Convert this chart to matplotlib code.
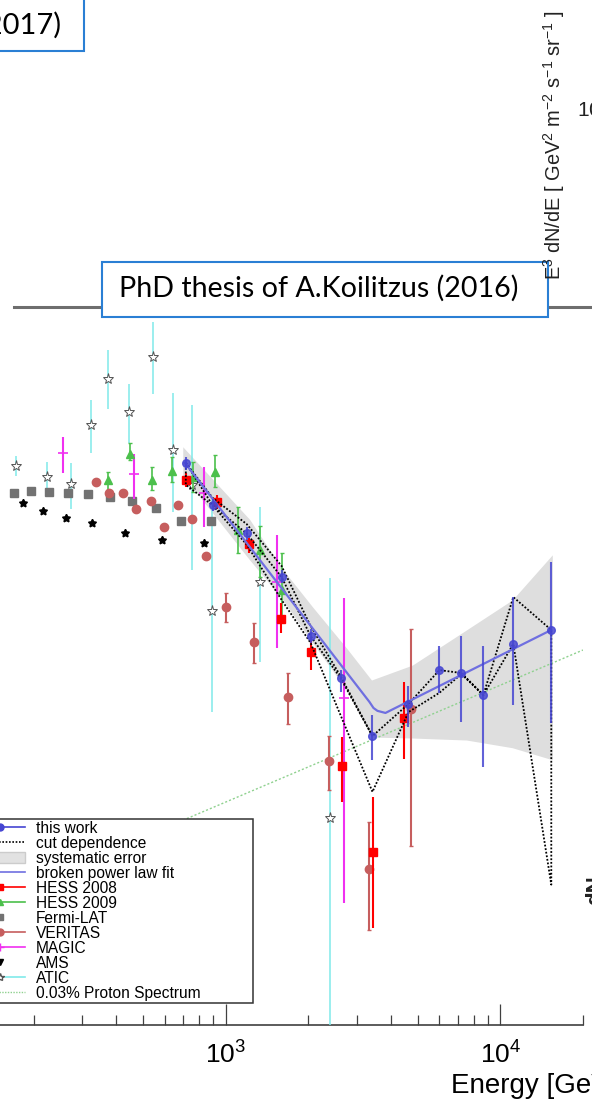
import matplotlib
matplotlib.use("Agg")
import matplotlib.pyplot as plt
from matplotlib.lines import Line2D
from matplotlib.patches import Patch, Rectangle
import numpy as np

plt.rcParams['font.family'] = ['Liberation Sans', 'DejaVu Sans']
plt.rcParams['mathtext.fontset'] = 'custom'
plt.rcParams['mathtext.rm'] = 'Liberation Sans'
plt.rcParams['mathtext.it'] = 'Liberation Sans:italic'
plt.rcParams['mathtext.bf'] = 'Liberation Sans:bold'
plt.rcParams['mathtext.default'] = 'regular'

# ---------------- data (E in GeV, E^3 dN/dE in GeV^2 m^-2 s^-1 sr^-1) ----------------
this_E = [716, 897, 1192, 1598, 2038, 2619, 3424, 4630, 6000, 7215, 8676, 11150, 15330]
this_F = [184, 140, 117, 88.5, 60.6, 46.3, 31.9, 39.2, 48.7, 47.8, 41.5, 57.6, 63.0]
this_hi = [191, 146, 122, 92.5, 63.4, 48.7, 36.5, 44.0, 56.9, 60.6, 56.7, 77.8, 97.4]
this_lo = [176, 135, 112, 85.1, 58.0, 42.3, 27.4, 33.8, 42.1, 34.9, 26.2, 38.9, 34.7]

fit_E = [710, 3339, 3453, 3570, 3818, 15330]
fit_F = [184, 39.7, 38.2, 37.5, 37.0, 63.0]

band_E = [698, 1223, 1598, 2073, 2754, 3396, 4786, 7524, 11060, 15460]
band_hi = [204, 128, 93.8, 73.0, 56.1, 45.7, 50.3, 63.0, 76.4, 102]
band_lo = [170, 98.7, 77.3, 58.0, 42.9, 31.7, 31.5, 31.1, 29.6, 27.4]

cut_up_E = [716, 897, 1192, 1598, 2038, 2619, 3424, 4630, 6000, 7215, 8676, 11150, 15330]
cut_up_F = [184, 146.9, 124.3, 95.0, 64.6, 46.9, 31.9, 39.2, 48.7, 47.8, 41.5, 77.8, 63.0]
cut_lo_E = [716, 897, 1192, 1598, 2038, 2619, 3424, 4630, 6000, 7215, 8676, 11150, 15330]
cut_lo_F = [160, 140, 109, 76.4, 58.0, 36.5, 22.3, 37.2, 42.1, 47.5, 41.5, 57.6, 12.3]
cut_mid_E = [716, 897, 1192, 1598, 2038, 2619, 3424]
cut_mid_F = [184, 140, 117, 88.5, 60.6, 46.3, 31.9]

hess08_E = [716, 927, 1212, 1585, 2038, 2641, 3453, 4477]
hess08_F = [165, 143, 109, 67.6, 54.7, 26.3, 15.2, 35.8]
hess08_hi = [172, 149.7, 114, 74.9, 60.2, 31.7, 21.6, 45.1]
hess08_lo = [158, 137, 103, 61.8, 48.7, 20.9, 9.32, 27.5]

hess09_E = [372, 448, 538, 636, 759, 912, 1106, 1329, 1598]
hess09_F = [165, 195, 165, 175, 168, 173, 120, 105, 81.4]
hess09_hi = [173, 209, 179, 191, 185, 193, 139, 123, 103]
hess09_lo = [155, 187, 155, 163, 153, 158, 103, 88.5, 68.5]

fermi_E = [170, 195, 227, 266, 315, 379, 455, 557, 686, 882]
fermi_F = [152, 154, 153, 152, 151, 148, 144, 138, 127, 127]

veritas_E = [337, 375, 422, 471, 534, 595, 669, 752, 846, 1000, 1264, 1680, 2369, 3339, 4747]
veritas_F = [163, 152, 152, 137, 144, 122, 140, 128, 101, 73.0, 58.3, 41.0, 27.2, 13.6, 37.95]
veritas_hi = [163, 152, 152, 137, 144, 122, 140, 128, 101, 79.8, 65.9, 47.8, 31.9, 18.4, 63.4]
veritas_lo = [163, 152, 152, 137, 144, 122, 140, 128, 101, 66.3, 51.0, 34.5, 22.6, 9.2, 15.8]

magic_E = [256, 463, 832, 1532, 2686]
magic_F = [196, 171, 152, 85.7, 40.7]
magic_hi = [217, 195, 179, 115.9, 77.3]
magic_lo = [172, 146, 122, 56.1, 10.9]

ams_E = [183, 216, 262, 326, 429, 585, 832]
ams_F = [142, 135, 129, 125, 117, 112, 110]

atic_E = [172, 223, 273, 323, 372, 444, 543, 642, 752, 890, 1329, 2389]
atic_F = [180, 168, 161, 235, 315, 255, 363, 200, 160, 71.2, 85.7, 18.9]
atic_hi = [192, 185, 184, 275, 380, 305, 454, 288, 267, 145, 139, 87.9]
atic_lo = [169, 152, 137, 196, 260, 209, 286, 134, 92.5, 37.2, 51.3, 2.0]

proton_E = [100, 20000]
proton_F = [9.87, 55.4]

labels = ["this work", "cut dependence", "systematic error", "broken power law fit",
          "HESS 2008", "HESS 2009", "Fermi-LAT", "VERITAS", "MAGIC", "AMS", "ATIC",
          "0.03% Proton Spectrum"]

# ---------------- colours ----------------
c_blue = '#4646d2'
c_fit = '#6f6fe0'
c_band = '#dedede'
c_red = '#ff0000'
c_green = '#4cc04c'
c_fermi = '#727272'
c_ver = '#c65e5e'
c_mag = '#f030f0'
c_atic = '#80eaea'
c_prot = '#8fd18f'

W, H = 592, 1104
fig = plt.figure(figsize=(W / 100, H / 100), dpi=100)


def fx(px):
    return px / W


def fy(py):
    return 1 - py / H


ax = fig.add_axes([fx(-49), fy(1025), (583 + 49) / W, (1025 - 307) / H])
ax.set_xscale('log')
ax.set_yscale('log')
ax.set_xlim(100, 2e4)
ax.set_ylim(5, 500)
ax.patch.set_alpha(0)


def yerr(F, hi, lo):
    F = np.asarray(F, float)
    return [F - np.asarray(lo, float), np.asarray(hi, float) - F]


ax.fill_between(band_E, band_lo, band_hi, color=c_band, lw=0, zorder=1)
ax.plot(proton_E, proton_F, color=c_prot, ls=(0, (1.5, 1.5)), lw=1.0, zorder=2)

ax.errorbar(atic_E, atic_F, yerr=yerr(atic_F, atic_hi, atic_lo), fmt='*', ms=8,
            mfc='white', mec='#555555', mew=0.7, ecolor=c_atic, elinewidth=1.1, capsize=0, zorder=3)
ax.plot(fermi_E, fermi_F, 's', color=c_fermi, ms=5.5, zorder=4)
ax.plot(ams_E, ams_F, ls='none', marker=(5, 1, 0), color='black', ms=6, zorder=4)
ax.errorbar(veritas_E, veritas_F, yerr=yerr(veritas_F, veritas_hi, veritas_lo), fmt='o',
            color=c_ver, ms=6, elinewidth=1.5, capsize=1.5, zorder=4)
ax.errorbar(magic_E, magic_F, yerr=yerr(magic_F, magic_hi, magic_lo), fmt='+',
            color=c_mag, ms=7, mew=1.2, elinewidth=1.5, capsize=0, zorder=4)
ax.errorbar(hess09_E, hess09_F, yerr=yerr(hess09_F, hess09_hi, hess09_lo), fmt='^',
            color=c_green, ms=6, elinewidth=1.2, capsize=1.5, zorder=4)
ax.errorbar(hess08_E, hess08_F, yerr=yerr(hess08_F, hess08_hi, hess08_lo), fmt='s',
            color=c_red, ms=6, elinewidth=1.5, capsize=0, zorder=4.5)

cut_E = list(cut_up_E) + list(cut_lo_E[::-1]) + [cut_up_E[0]]
cut_F = list(cut_up_F) + list(cut_lo_F[::-1]) + [cut_up_F[0]]
ax.plot(cut_E, cut_F, color='black', ls=(0, (1, 1)), lw=1.3, zorder=5)
ax.plot(cut_mid_E, cut_mid_F, color='black', ls=(0, (1, 1)), lw=1.3, zorder=5)
ax.plot(fit_E, fit_F, color=c_fit, lw=1.6, zorder=5.5)
ax.errorbar(this_E, this_F, yerr=yerr(this_F, this_hi, this_lo), fmt='o', color=c_blue,
            ms=5.5, elinewidth=1.5, capsize=0, alpha=0.85, zorder=6)

for s in ['left', 'right', 'top']:
    ax.spines[s].set_visible(False)
ax.spines['bottom'].set_linewidth(1.2)
ax.spines['bottom'].set_color('#404040')
ax.tick_params(axis='x', which='major', direction='in', length=15, width=0.9,
               labelsize=19, pad=12, color='#404040')
ax.tick_params(axis='x', which='minor', direction='in', length=7.5, width=0.9, color='#404040')
ax.tick_params(axis='y', which='both', left=False, labelleft=False)

handles = [
    Line2D([], [], color=c_blue, marker='o', ms=5, lw=1.2),
    Line2D([], [], color='black', ls=(0, (1, 1)), lw=1.2),
    Patch(facecolor='#e2e2e2', edgecolor='#cccccc'),
    Line2D([], [], color=c_fit, lw=1.2),
    Line2D([], [], color=c_red, marker='s', ms=5, lw=1.2),
    Line2D([], [], color=c_green, marker='^', ms=5, lw=1.2),
    Line2D([], [], color=c_fermi, marker='s', ms=4.5, ls='none'),
    Line2D([], [], color=c_ver, marker='o', ms=5, lw=1.2),
    Line2D([], [], color=c_mag, marker='+', ms=6, lw=1.2),
    Line2D([], [], color='black', marker='v', ms=4.5, ls='none'),
    Line2D([], [], color=c_atic, marker='*', mfc='white', mec='#555555', ms=6, lw=1.2),
    Line2D([], [], color=c_prot, ls=(0, (1, 1)), lw=1.0),
]
leg = ax.legend(handles, labels, loc='upper left',
                bbox_to_anchor=(fx(-27), fy(1000), (253 + 27) / W, (1000 - 819) / H),
                bbox_transform=fig.transFigure, mode='expand', borderaxespad=0,
                prop={'family': 'Liberation Sans', 'size': 11.2}, labelspacing=0.0,
                handlelength=3.2, handletextpad=0.7, borderpad=0.12, numpoints=1,
                fancybox=False, framealpha=1, edgecolor='#333333')
leg.get_frame().set_linewidth(1.1)
leg.set_zorder(10)

fig.text(fx(451), fy(1093), 'Energy [GeV]', fontsize=20, ha='left', va='baseline')

# slide elements around the chart
fig.add_artist(Line2D([fx(14), fx(600)], [fy(307), fy(307)], transform=fig.transFigure,
                      color='#6e6e6e', lw=2.2, zorder=2))
fig.add_artist(Rectangle((fx(102), fy(317)), (548 - 102) / W, (317 - 262) / H,
                         transform=fig.transFigure, facecolor='white', edgecolor='#2a7fd4',
                         lw=1.5, zorder=3))
fig.text(fx(119), fy(297), 'PhD thesis of A.Koilitzus (2016)', family='Lato', fontsize=20.6,
         ha='left', va='baseline', zorder=4)
fig.add_artist(Rectangle((fx(-10), fy(51)), (84 + 10) / W, (51 + 10) / H,
                         transform=fig.transFigure, facecolor='white', edgecolor='#2a7fd4',
                         lw=1.5, zorder=3))
fig.text(fx(62), fy(34), '(2017)', family='Lato', fontsize=21, ha='right', va='baseline', zorder=4)
fig.text(fx(554), fy(280), r'E$^{3}$ dN/dE [ GeV$^{2}$ m$^{-2}$ s$^{-1}$ sr$^{-1}$ ]',
         rotation=90, ha='center', va='bottom', fontsize=14.4, color='#222222')
fig.text(fx(577), fy(110), r'10$^{2}$', ha='left', va='center', fontsize=15, color='#222222')
fig.text(fx(585), fy(905), 'dN', rotation=90, ha='left', va='bottom', fontsize=16,
         fontweight='bold', color='#222222')

fig.savefig('out.png', dpi=100)
